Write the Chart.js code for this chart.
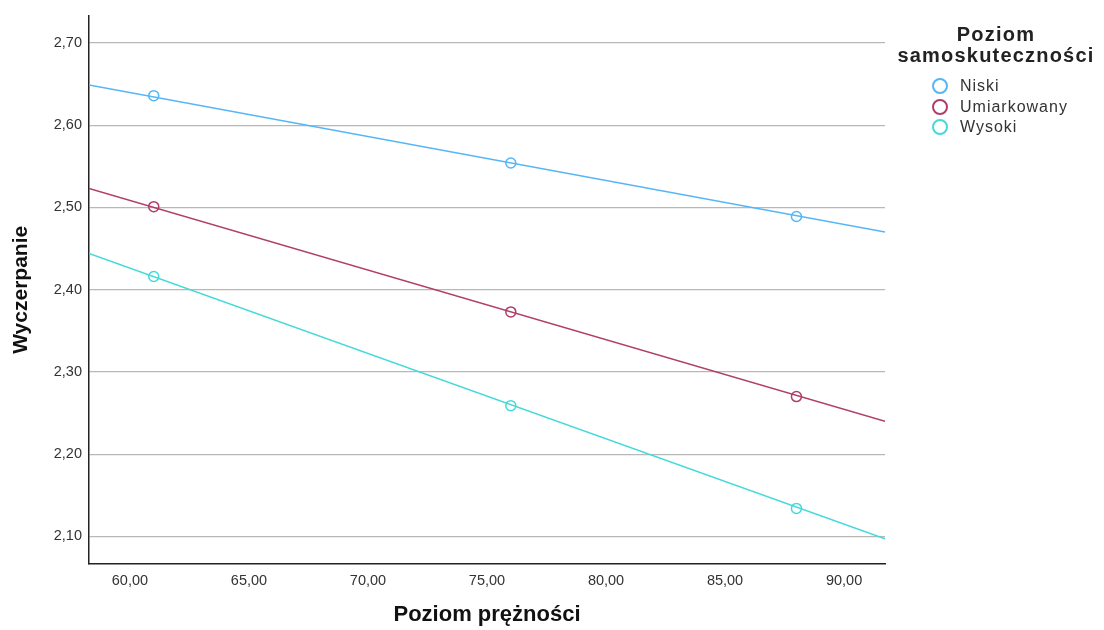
<!DOCTYPE html>
<html lang="pl">
<head>
  <meta charset="UTF-8" />
  <title>Wyczerpanie - Poziom prężności</title>
  <script src="https://cdn.jsdelivr.net/npm/chart.js"></script>
  <style>
    body {
      margin: 0;
      padding: 0;
      background: #ffffff;
      font-family: 'Liberation Sans', Arial, sans-serif;
    }

    .wrap {
      position: relative;
      width: 1104px;
      height: 630px;
    }

    .legend {
      position: absolute;
      left: 888px;
      top: 24px;
      width: 216px;
      color: #222;
    }

    .legend h4 {
      margin: 0 0 10px 0;
      font-size: 20px;
      line-height: 21px;
      font-weight: bold;
      text-align: center;
      letter-spacing: 1.2px;
    }

    .legend .item {
      display: flex;
      align-items: center;
      height: 20.5px;
      margin-left: 44px;
      font-size: 16px;
      letter-spacing: 1px;
      color: #333;
    }

    .legend .dot {
      width: 12px;
      height: 12px;
      border-radius: 50%;
      border: 2px solid;
      margin-right: 12px;
    }
  </style>
</head>
<body>

  <div class="wrap">
    <canvas id="chart"></canvas>
    <div class="legend" id="legend"></div>
  </div>

  <script>
    // group names and colours
    const groups = ['Niski', 'Umiarkowany', 'Wysoki'];
    const colors = ['#55b6f6', '#b13d6a', '#45d9d9'];

    // observed means
    const xPoints = [61, 76, 88];
    const niski = [2.636, 2.554, 2.489];
    const umiarkowany = [2.501, 2.373, 2.270];
    const wysoki = [2.416, 2.259, 2.134];

    // fit lines, read at the left and right edge of the plot
    const xLineEnds = [58.28, 91.72];
    const niskiFit = [2.649, 2.470];
    const umiarkowanyFit = [2.523, 2.240];
    const wysokiFit = [2.444, 2.097];

    const xTicks = [60, 65, 70, 75, 80, 85, 90];
    const yTicks = [2.1, 2.2, 2.3, 2.4, 2.5, 2.6, 2.7];

    const pointSeries = [niski, umiarkowany, wysoki];
    const fitSeries = [niskiFit, umiarkowanyFit, wysokiFit];

    const fmt = v => Number(v).toFixed(2).replace('.', ',');

    const datasets = [];
    groups.forEach((g, i) => {
      datasets.push({
        label: g + ' (linia)',
        data: xLineEnds.map((x, j) => ({ x: x, y: fitSeries[i][j] })),
        showLine: true,
        borderColor: colors[i],
        borderWidth: 1.5,
        pointRadius: 0
      });
      datasets.push({
        label: g,
        data: xPoints.map((x, j) => ({ x: x, y: pointSeries[i][j] })),
        showLine: false,
        borderColor: colors[i],
        backgroundColor: 'rgba(0,0,0,0)',
        borderWidth: 1.5,
        pointRadius: 5
      });
    });

    new Chart(document.getElementById('chart'), {
      type: 'scatter',
      data: { datasets: datasets },
      options: {
        responsive: true,
        maintainAspectRatio: false,
        animation: false,
        layout: { padding: { top: 15, right: 219, left: 0, bottom: 0 } },
        plugins: {
          legend: { display: false },
          tooltip: { enabled: false }
        },
        scales: {
          x: {
            type: 'linear',
            min: 58.28,
            max: 91.72,
            afterBuildTicks: s => { s.ticks = xTicks.map(v => ({ value: v })); },
            afterFit: s => { s.height = 66; },
            grid: { display: true, drawOnChartArea: false, drawTicks: false },
            border: { display: true, color: '#222', width: 1.5 },
            ticks: {
              color: '#333',
              padding: 8,
              maxRotation: 0,
              font: { family: "'Liberation Sans', Arial, sans-serif", size: 14.5 },
              callback: v => fmt(v)
            },
            title: {
              display: true,
              text: 'Poziom prężności',
              color: '#111',
              padding: { top: 0, bottom: 2 },
              font: { family: "'Liberation Sans', Arial, sans-serif", size: 22, weight: 'bold' }
            }
          },
          y: {
            type: 'linear',
            min: 2.0664,
            max: 2.7332,
            afterBuildTicks: s => { s.ticks = yTicks.map(v => ({ value: v })); },
            afterFit: s => { s.width = 89; },
            grid: { color: '#b8b8b8', lineWidth: 1.2, drawTicks: false },
            border: { display: true, color: '#222', width: 1.5 },
            ticks: {
              color: '#333',
              padding: 7,
              font: { family: "'Liberation Sans', Arial, sans-serif", size: 14.5 },
              callback: v => fmt(v)
            },
            title: {
              display: true,
              text: 'Wyczerpanie',
              color: '#111',
              padding: { top: 9, bottom: 0 },
              font: { family: "'Liberation Sans', Arial, sans-serif", size: 21, weight: 'bold' }
            }
          }
        }
      }
    });

    // legend on the right
    const legend = document.getElementById('legend');
    legend.innerHTML = '<h4>Poziom<br>samoskuteczności</h4>' +
      groups.map((g, i) =>
        '<div class="item"><span class="dot" style="border-color:' + colors[i] + '"></span>' + g + '</div>'
      ).join('');
  </script>

</body>
</html>
